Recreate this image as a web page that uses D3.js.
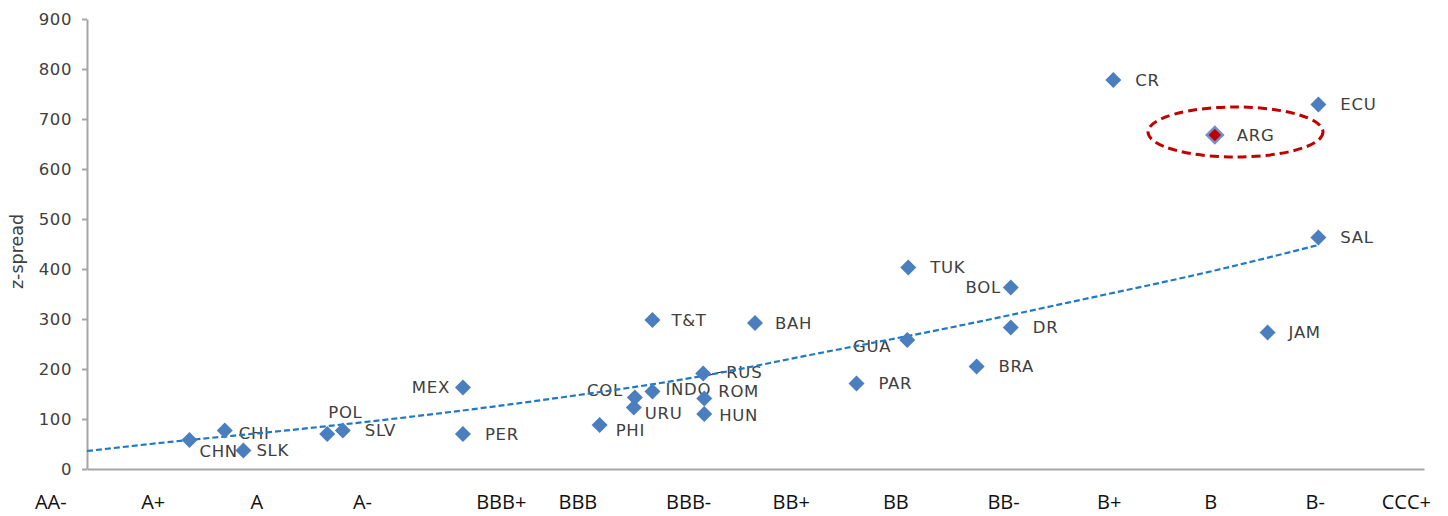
<!DOCTYPE html>
<html>
<head>
<meta charset="utf-8">
<script src="https://cdn.jsdelivr.net/npm/d3@7"></script>
<style>
  body { margin: 0; background: #fff; }
  svg { display: block; }
</style>
</head>
<body>
<svg id="chart"></svg>
<script>
// sovereigns: rating (notches, AA- = 0) vs z-spread (bp)
var names   = ["CHN","CHI","SLK","POL","SLV","MEX","PER","PHI","COL","URU","INDO","T&T","RUS","ROM","HUN","BAH","PAR","GUA","TUK","BRA","BOL","DR","CR","ARG","JAM","ECU","SAL"];
var ratings = [1.08,1.42,1.60,2.41,2.56,3.72,3.72,5.04,5.38,5.37,5.55,5.55,6.04,6.05,6.05,6.54,7.52,8.01,8.02,8.68,9.01,9.01,10.0,10.98,11.49,11.98,11.98];
var zspread = [58,77,37,70,77,163,70,88,143,123,155,298,191,141,110,292,171,258,403,205,363,283,778,668,273,729,463];

// trend line
var trendX = [0.09,0.7,2.15,3.6,4.56,6.06,7.07,8.5,9.68,11.0,11.98];
var trendY = [36,50,80,114,140,187,228,286,338,398,448];

// rating labels under the axis
var ratingLabels = ["AA-","A+","A","A-","BBB+","BBB","BBB-","BB+","BB","BB-","B+","B","B-","CCC+"];
var ratingLabelPos = [-0.26,0.73,1.73,2.75,4.09,4.83,5.90,6.89,7.90,8.94,9.96,10.94,11.95,12.83];

var yTicks = [0,100,200,300,400,500,600,700,800,900];

var width = 1448, height = 516;
var svg = d3.select("#chart").attr("width", width).attr("height", height);

var xs = d3.scaleLinear().domain([0.09, 13]).range([87, 1424]);
var ys = d3.scaleLinear().domain([0, 900]).range([469, 19]);

var labelFont = "'DejaVu Sans', sans-serif";
var textColor = "#404040";
var blue = "#4a7ebf";

// label placement: dx, dy, anchor
var place = {
  "CHN": [10, 11, "start"], "CHI": [14, 3, "start"], "SLK": [13, 0, "start"],
  "POL": [1, -22, "start"], "SLV": [22, 0, "start"], "MEX": [-13, 0, "end"],
  "PER": [22, 0, "start"], "PHI": [16, 5, "start"], "COL": [-12, -7, "end"],
  "URU": [11, 6, "start"], "INDO": [13, -2, "start"], "T&T": [19, 0, "start"],
  "RUS": [23, -1, "start"], "ROM": [14, -7, "start"], "HUN": [15, 1, "start"],
  "BAH": [20, 0, "start"], "PAR": [22, 0, "start"], "GUA": [-16, 6, "end"],
  "TUK": [22, 0, "start"], "BRA": [22, 0, "start"], "BOL": [-10, 0, "end"],
  "DR": [22, 0, "start"], "CR": [22, 0, "start"], "ARG": [22, 0, "start"],
  "JAM": [21, 0, "start"], "ECU": [22, 0, "start"], "SAL": [22, 0, "start"]
};

var points = names.map(function(n, i) {
  return { name: n, x: ratings[i], y: zspread[i] };
});

// y axis
var yAxis = svg.append("g")
  .attr("transform", "translate(" + xs(0.09) + ",0)")
  .call(d3.axisLeft(ys).tickValues(yTicks).tickSize(5).tickSizeOuter(0).tickPadding(10));
yAxis.selectAll("path, line").attr("stroke", "#a6a6a6").attr("stroke-width", 2);
yAxis.selectAll("text")
  .attr("font-family", labelFont).attr("font-size", 16.5).attr("letter-spacing", 0.6)
  .attr("fill", textColor);

svg.append("text")
  .attr("transform", "translate(23," + ys(435) + ") rotate(-90)")
  .attr("text-anchor", "middle")
  .attr("font-family", labelFont).attr("font-size", 17.5)
  .attr("fill", textColor)
  .text("z-spread");

// x axis (line only)
var xAxis = svg.append("g")
  .attr("transform", "translate(0," + ys(0) + ")")
  .call(d3.axisBottom(xs).tickValues([]).tickSizeOuter(0));
xAxis.select("path").attr("stroke", "#a6a6a6").attr("stroke-width", 2);

svg.append("g").selectAll("text")
  .data(ratingLabels)
  .enter()
  .append("text")
  .attr("x", function(d, i) { return xs(ratingLabelPos[i]); })
  .attr("y", 509)
  .attr("text-anchor", "middle")
  .attr("font-family", "'Open Sans', sans-serif")
  .attr("font-size", 20)
  .attr("fill", "#111")
  .text(function(d) { return d; });

// point labels
svg.append("g").selectAll("text")
  .data(points)
  .enter()
  .append("text")
  .attr("x", function(d) { return xs(d.x) + place[d.name][0]; })
  .attr("y", function(d) { return ys(d.y) + place[d.name][1]; })
  .attr("dy", "0.36em")
  .attr("text-anchor", function(d) { return place[d.name][2]; })
  .attr("font-family", labelFont)
  .attr("font-size", 16.5)
  .attr("letter-spacing", 0.7)
  .attr("fill", textColor)
  .text(function(d) { return d.name; });

// leader for RUS
var rus = points[names.indexOf("RUS")];
svg.append("line")
  .attr("x1", xs(rus.x) + 1).attr("y1", ys(rus.y) + 3)
  .attr("x2", xs(rus.x) + 20).attr("y2", ys(rus.y) - 2)
  .attr("stroke", "#222").attr("stroke-width", 1.2);

// trend line
var trend = trendX.map(function(v, i) { return [v, trendY[i]]; });
svg.append("path")
  .datum(trend)
  .attr("fill", "none")
  .attr("stroke", "#1f78c8")
  .attr("stroke-width", 2.2)
  .attr("stroke-dasharray", "6,3")
  .attr("d", d3.line()
    .x(function(d) { return xs(d[0]); })
    .y(function(d) { return ys(d[1]); })
    .curve(d3.curveMonotoneX));

// markers
var diamond = d3.symbol().type(d3.symbolSquare).size(128);
svg.append("g").selectAll("path")
  .data(points)
  .enter()
  .append("path")
  .attr("d", diamond)
  .attr("transform", function(d) { return "translate(" + xs(d.x) + "," + ys(d.y) + ") rotate(45)"; })
  .attr("fill", function(d) { return d.name === "ARG" ? "#c00000" : blue; })
  .attr("stroke", function(d) { return d.name === "ARG" ? "#6f8fd0" : "none"; })
  .attr("stroke-width", 2.5);

// highlight around ARG
var arg = points[names.indexOf("ARG")];
svg.append("ellipse")
  .attr("cx", xs(arg.x + 0.2))
  .attr("cy", ys(arg.y + 6))
  .attr("rx", xs(11.18 + 0.845) - xs(11.18))
  .attr("ry", ys(0) - ys(50))
  .attr("fill", "none")
  .attr("stroke", "#c00000")
  .attr("stroke-width", 3)
  .attr("stroke-dasharray", "9,5");
</script>
</body>
</html>
